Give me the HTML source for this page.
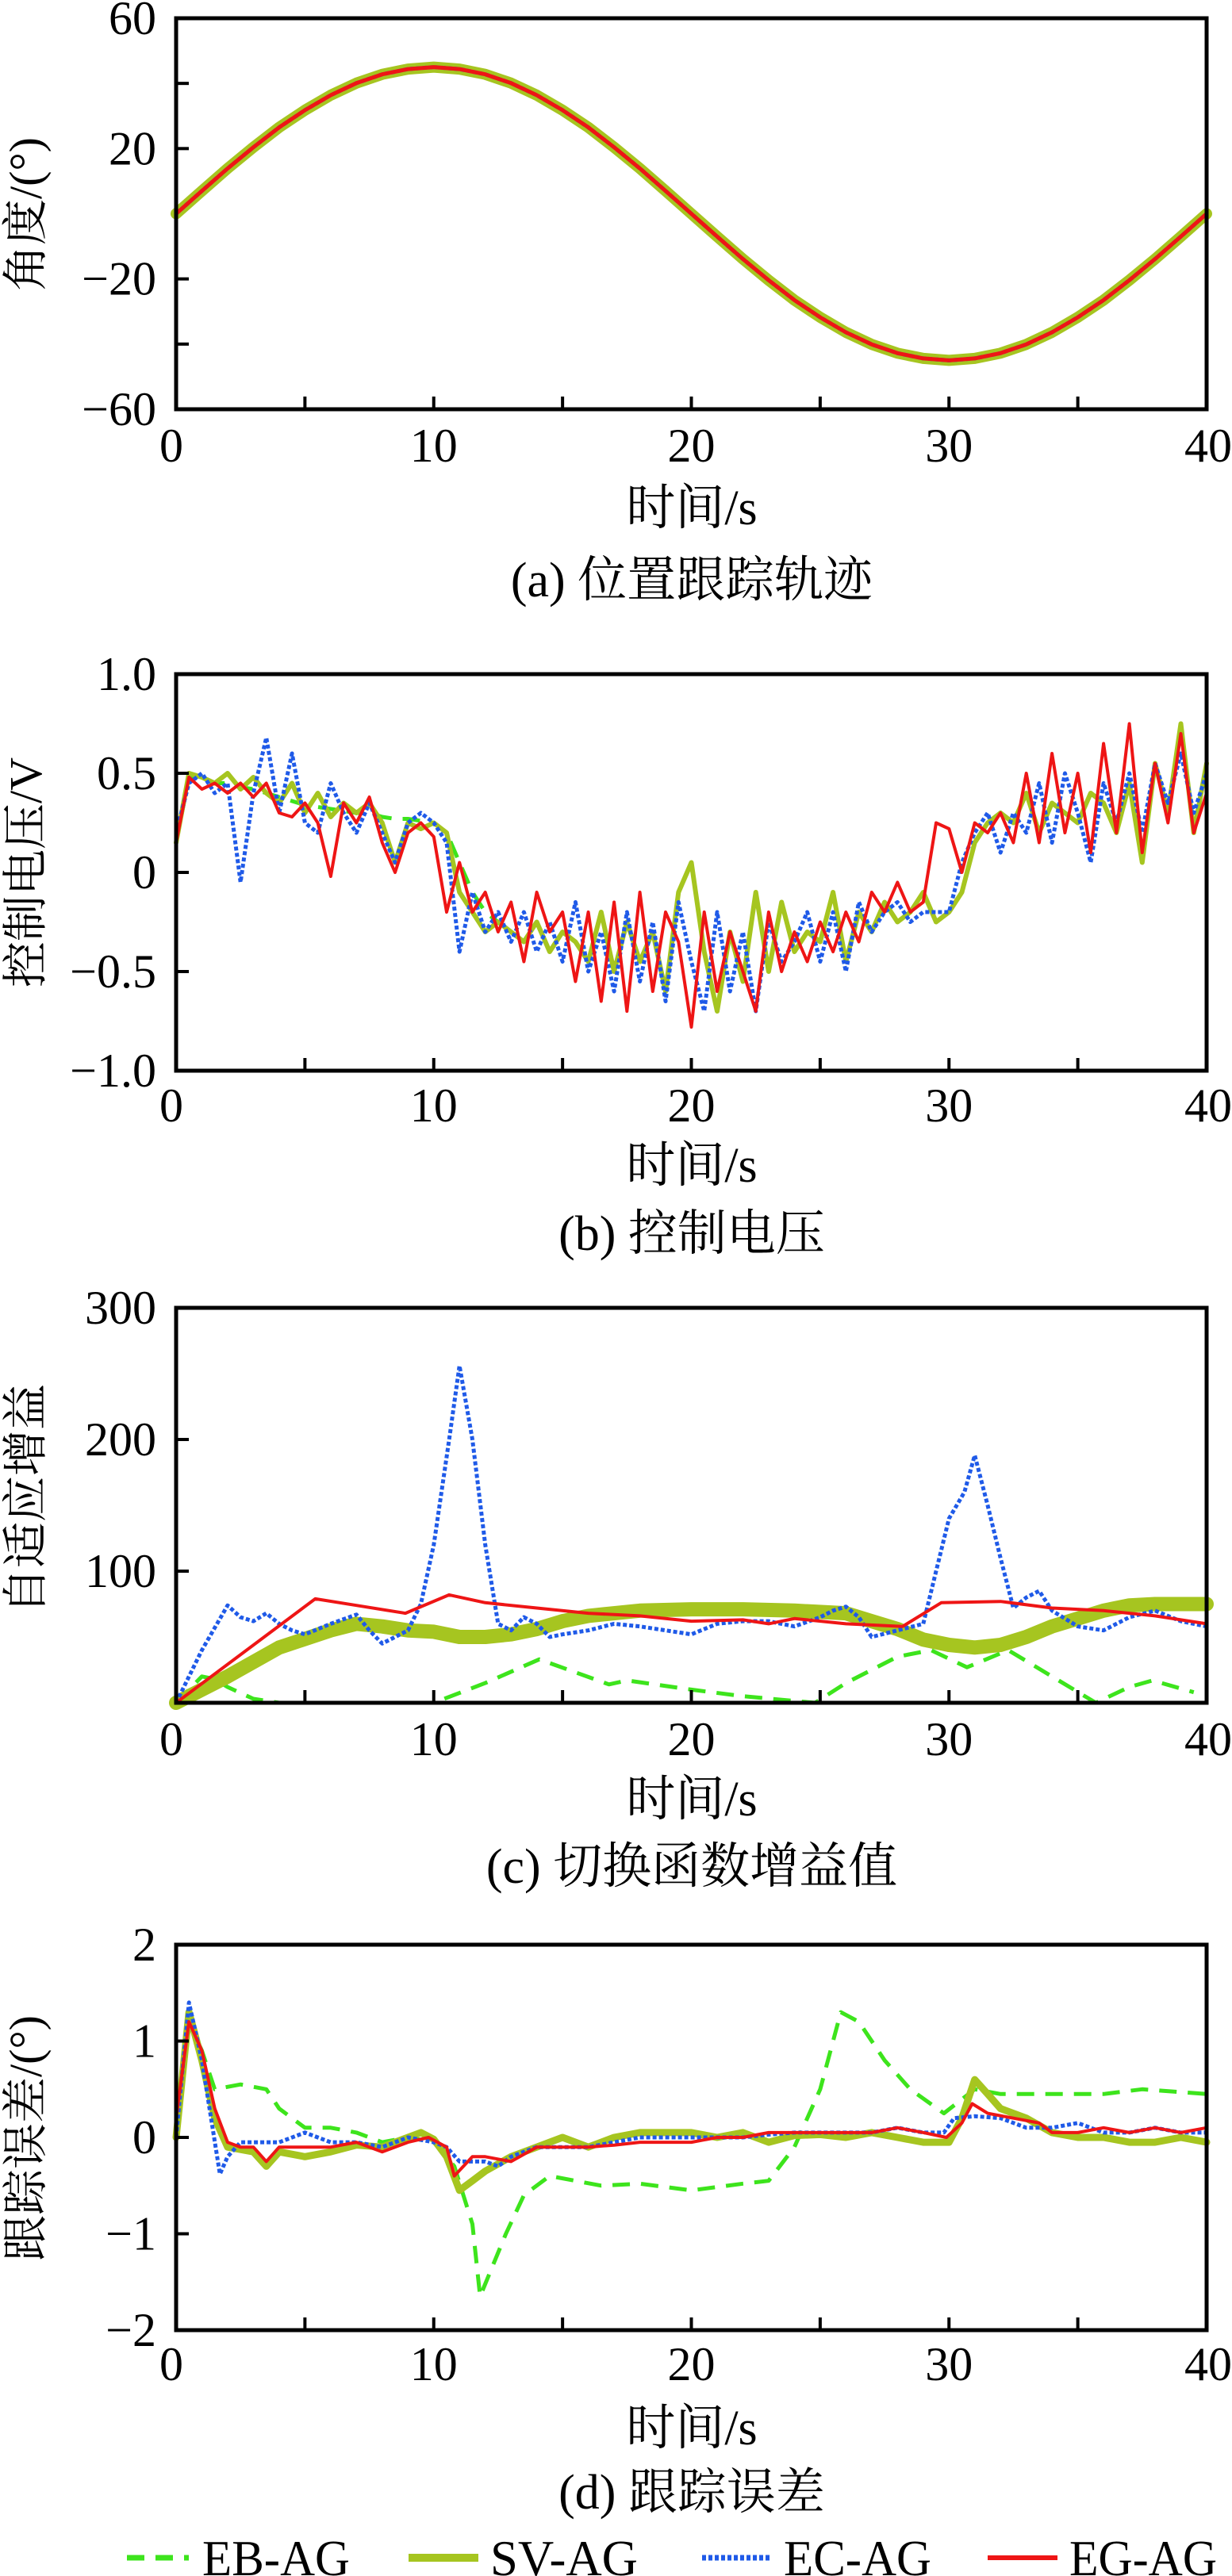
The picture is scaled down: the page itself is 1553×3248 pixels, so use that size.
<!DOCTYPE html>
<html><head><meta charset="utf-8">
<style>
html,body{margin:0;padding:0;background:#fff;}
svg{display:block;}
text{font-family:"Liberation Serif","Noto Serif CJK SC",serif;fill:#000;}
</style></head>
<body>
<svg id="fig" width="1553" height="3248" viewBox="0 0 1553 3248" xmlns="http://www.w3.org/2000/svg"></svg>
<script>
// ---------- (a) position tracking ----------
const aT = [0,1,2,3,4,5,6,7,8,9,10,11,12,13,14,15,16,17,18,19,20,21,22,23,24,25,26,27,28,29,30,31,32,33,34,35,36,37,38,39,40];
const aRef = [0,7,13.9,20.4,26.5,31.8,36.4,40.1,42.8,44.4,45,44.4,42.8,40.1,36.4,31.8,26.5,20.4,13.9,7,0,-7,-13.9,-20.4,-26.5,-31.8,-36.4,-40.1,-42.8,-44.4,-45,-44.4,-42.8,-40.1,-36.4,-31.8,-26.5,-20.4,-13.9,-7,0];

// ---------- (b) control voltage ----------
const bT = [0,0.5,1,1.5,2,2.5,3,3.5,4,4.5,5,5.5,6,6.5,7,7.5,8,8.5,9,9.5,10,10.5,11,11.5,12,12.5,13,13.5,14,14.5,15,15.5,16,16.5,17,17.5,18,18.5,19,19.5,20,20.5,21,21.5,22,22.5,23,23.5,24,24.5,25,25.5,26,26.5,27,27.5,28,28.5,29,29.5,30,30.5,31,31.5,32,32.5,33,33.5,34,34.5,35,35.5,36,36.5,37,37.5,38,38.5,39,39.5,40];
const bRed = [0.15,0.48,0.42,0.45,0.40,0.45,0.38,0.45,0.30,0.28,0.35,0.25,-0.02,0.35,0.25,0.38,0.15,0.0,0.2,0.25,0.18,-0.2,0.05,-0.2,-0.1,-0.3,-0.15,-0.45,-0.1,-0.3,-0.2,-0.55,-0.2,-0.65,-0.15,-0.7,-0.1,-0.6,-0.2,-0.35,-0.78,-0.2,-0.6,-0.3,-0.5,-0.7,-0.2,-0.5,-0.3,-0.45,-0.25,-0.4,-0.2,-0.35,-0.1,-0.2,-0.05,-0.2,-0.15,0.25,0.22,0.0,0.25,0.2,0.3,0.15,0.5,0.15,0.6,0.2,0.5,0.1,0.65,0.2,0.75,0.1,0.55,0.25,0.7,0.2,0.4];
const bBlue = [0.2,0.45,0.5,0.4,0.45,-0.05,0.4,0.68,0.3,0.6,0.25,0.2,0.45,0.3,0.2,0.35,0.2,0.05,0.25,0.3,0.25,0.15,-0.4,-0.1,-0.3,-0.2,-0.35,-0.2,-0.4,-0.25,-0.45,-0.15,-0.5,-0.3,-0.6,-0.2,-0.55,-0.25,-0.65,-0.15,-0.45,-0.7,-0.2,-0.6,-0.3,-0.7,-0.25,-0.45,-0.35,-0.2,-0.45,-0.2,-0.5,-0.15,-0.3,-0.2,-0.15,-0.25,-0.2,-0.2,-0.2,0.05,0.2,0.3,0.1,0.3,0.2,0.45,0.15,0.5,0.3,0.05,0.45,0.25,0.5,0.2,0.55,0.35,0.6,0.3,0.5];
const bSV = [0.15,0.5,0.48,0.45,0.5,0.42,0.48,0.4,0.35,0.45,0.3,0.4,0.28,0.35,0.3,0.35,0.25,0.05,0.25,0.22,0.25,0.2,-0.1,-0.2,-0.3,-0.25,-0.3,-0.35,-0.25,-0.4,-0.3,-0.35,-0.45,-0.2,-0.5,-0.25,-0.45,-0.3,-0.6,-0.1,0.05,-0.4,-0.7,-0.3,-0.55,-0.1,-0.5,-0.15,-0.4,-0.3,-0.35,-0.1,-0.45,-0.2,-0.3,-0.15,-0.25,-0.2,-0.1,-0.25,-0.2,-0.1,0.15,0.25,0.3,0.25,0.4,0.2,0.35,0.3,0.25,0.4,0.35,0.2,0.45,0.05,0.55,0.3,0.75,0.2,0.55];
const bEB = [0.15,0.48,0.47,0.45,0.45,0.43,0.42,0.4,0.38,0.36,0.34,0.33,0.32,0.31,0.3,0.3,0.28,0.27,0.27,0.26,0.25,0.2,0.05,-0.1,-0.2,-0.25];

// ---------- (c) adaptive gain ----------
const cBlueT = [0,1,2,2.5,3,3.5,4,4.5,5,6,7,7.5,8,9,9.5,10,10.6,11,11.5,12,12.5,13,13.5,14,14.5,15,16,17,18,19,20,21,22,23,24,25,25.5,26,26.5,27,28,29,29.5,30,30.6,31,31.5,32,32.5,33,33.5,34,35,36,37,38,39,40];
const cBlue = [0,40,74,65,62,68,60,55,52,60,67,55,45,55,75,120,200,256,200,120,60,55,65,60,50,52,55,60,58,55,52,60,62,62,58,65,70,73,65,50,55,60,100,140,160,188,150,110,72,80,85,70,58,55,65,70,62,58,55];
const cRedT = [0,5.4,7,8.9,10.6,12,14,16,18,20,22,23,24,26,28.2,29.7,32,34,36,38,40];
const cRed = [0,79,74,68,82,76,72,68,66,62,63,60,64,60,58,76,77,72,70,66,60];
const cSVT = [0,2,4,6,7,8,9,10,11,12,13,14,15,16,18,20,22,24,26,27,28,29,30,31,32,33,34,35,36,37,38,40];
const cSV = [0,20,42,55,60,58,55,54,50,50,52,56,62,66,70,71,71,70,68,62,56,48,44,42,44,50,58,64,70,74,75,75];
const cEBT = [0,1,1.5,2,3,4,8,10,12,14.1,16.8,17.5,20,22,24.8,26,28,29.3,30.7,32.3,34,35.7,37,37.9,39.5];
const cEB = [0,20,18,12,3,0,0,0,15,33,14,17,10,5,0,15,35,40,27,40,20,0,12,17,8];

// ---------- (d) tracking error ----------
const dEBT = [0,0.5,1,1.5,2.5,3.5,4,5,6,7,8,9,10,10.8,11.5,11.8,12.8,13.5,14.5,15.5,16.5,18,20,22,23,24,25,25.8,26.5,27.5,28.5,29.8,31,32,34,36,37.5,40];
const dEB = [0,1.2,0.9,0.5,0.55,0.5,0.3,0.1,0.1,0.05,-0.05,0,-0.05,-0.3,-0.9,-1.65,-1.0,-0.6,-0.4,-0.45,-0.5,-0.48,-0.55,-0.48,-0.45,-0.1,0.5,1.3,1.2,0.8,0.5,0.25,0.5,0.45,0.45,0.45,0.5,0.45];
const dSVT = [0,0.5,1,1.5,2,3,3.5,4,5,6,7,8,9,9.5,10,10.5,11,11.5,12,13,14,15,16,17,18,19,20,21,22,23,24,25,26,27,28,29,30,30.5,31,31.5,32,33,34,35,36,37,38,39,40];
const dSV = [0,1.3,0.8,0.2,-0.1,-0.15,-0.3,-0.15,-0.2,-0.15,-0.08,-0.1,0,0.05,-0.02,-0.2,-0.55,-0.45,-0.35,-0.2,-0.1,0,-0.1,0,0.05,0.05,0.05,0,0.05,-0.05,0.02,0.03,0,0.05,0,-0.05,-0.05,0.2,0.6,0.45,0.3,0.2,0.05,0,0,-0.05,-0.05,0,-0.05];
const dBlueT = [0,0.5,1,1.7,2,2.5,3,4,5,6,7,8,9,10,10.5,11,12,12.5,13,14,15,16,17,18,19,20,21,22,23,24,25,26,27,28,29,29.8,30.2,31,32,33,34,35,36,37,38,39,40];
const dBlue = [0,1.4,0.8,-0.38,-0.2,-0.05,-0.05,-0.05,0.05,-0.05,-0.05,-0.1,0,-0.05,-0.1,-0.25,-0.25,-0.3,-0.2,-0.1,-0.1,-0.1,-0.05,0,0,0,0,0,0.03,0.05,0.05,0.05,0.05,0.1,0.05,0.05,0.2,0.22,0.2,0.1,0.1,0.15,0.05,0.05,0.1,0.05,0.05];
const dRedT = [0,0.5,1,1.5,2,2.5,3,3.5,4,5,6,7,8,9,9.8,10.5,10.8,11.5,12,13,14,15,16,17,18,19,20,21,22,23,24,25,26,27,28,29,29.9,30.5,30.9,31.5,32.5,33.5,34,35,36,37,38,39,40];
const dRed = [0.2,1.2,0.9,0.3,-0.05,-0.1,-0.1,-0.25,-0.1,-0.1,-0.1,-0.05,-0.15,-0.05,0,-0.1,-0.4,-0.2,-0.2,-0.25,-0.1,-0.1,-0.1,-0.08,-0.05,-0.05,-0.05,0,0,0.05,0.05,0.05,0.05,0.05,0.1,0.05,0,0.15,0.35,0.25,0.2,0.15,0.05,0.05,0.1,0.05,0.1,0.05,0.1];

const xTicks = [0,10,20,30,40];

const NS = 'http://www.w3.org/2000/svg';
const svg = document.getElementById('fig');
function el(tag, attrs, parent) {
  const e = document.createElementNS(NS, tag);
  for (const k in attrs) e.setAttribute(k, attrs[k]);
  (parent || svg).appendChild(e);
  return e;
}
const X0 = 222, X1 = 1521;
function xs(t) { return X0 + (t / 40) * (X1 - X0); }

const STY = {
  eb: {stroke:'#3de41c', w:5, dash:'22 14'},
  sv: {stroke:'#a6c520', w:8, dash:''},
  ec: {stroke:'#1f5ae8', w:5, dash:'5 3'},
  eg: {stroke:'#ee1515', w:4, dash:''}
};

function panel(cfg) {
  const g = el('g', {});
  
  
  const ys = v => cfg.y1 - (v - cfg.ymin) / (cfg.ymax - cfg.ymin) * (cfg.y1 - cfg.y0);
  // series
  cfg.series.forEach(s => {
    const st = STY[s.k];
    let d = '';
    s.t.forEach((t, i) => { d += (i ? 'L' : 'M') + xs(t).toFixed(1) + ',' + ys(s.v[i]).toFixed(1); });
    const p = el('path', {d: d, fill:'none', stroke: st.stroke, 'stroke-width': s.w || st.w, 'stroke-linejoin':'round', 'stroke-linecap': st.dash ? 'butt' : 'round'}, g);
    if (st.dash) p.setAttribute('stroke-dasharray', st.dash);
    
    
  });
  // frame
  const fr = el('rect', {x:X0, y:cfg.y0, width:X1-X0, height:cfg.y1-cfg.y0, fill:'none', stroke:'#000', 'stroke-width':5}, g);
  
  
  // x ticks
  for (let t = 5; t < 40; t += 5) {
    el('line', {x1:xs(t), x2:xs(t), y1:cfg.y1, y2:cfg.y1-16, stroke:'#000','stroke-width':4}, g);
  }
  xTicks.forEach(t => {
    const tx = el('text', {x: xs(t) + (t===0 ? -6 : t===40 ? 2 : 0), y: cfg.xl + 20, 'font-size':60, 'text-anchor':'middle'}, g);
    tx.textContent = t;
    
    
  });
  // y ticks
  cfg.yTicks.forEach(v => {
    el('line', {x1:X0, x2:X0+16, y1:ys(v), y2:ys(v), stroke:'#000','stroke-width':4}, g);
  });
  cfg.yLabels.forEach((v, i) => {
    const tx = el('text', {x:197, y: ys(v) + 20, 'font-size':60, 'text-anchor':'end'}, g);
    tx.textContent = cfg.yText[i];
    
    
  });
  const xt = el('text', {x:872, y:cfg.xt + 22, 'font-size':62, 'text-anchor':'middle'}, g);
  xt.textContent = '时间/s';
  
  
  const cp = el('text', {x:872, y:cfg.cap + 22, 'font-size':62, 'text-anchor':'middle'}, g);
  cp.textContent = cfg.caption;
  
  
  const yt = el('text', {x:0, y:0, 'font-size':58, 'text-anchor':'middle', transform:'translate(52,' + cfg.ytc + ') rotate(-90)'}, g);
  yt.textContent = cfg.ytitle;
  
  
}

panel({name:'panel-a-position', y0:23, y1:516, ymin:-60, ymax:60, yTicks:[40,20,-20,-40], yLabels:[60,20,-20,-60], yText:['60','20','\u221220','\u221260'],
  xl:562, xt:639, cap:730, caption:'(a) 位置跟踪轨迹', ytitle:'角度/(°)', ytc:270,
  series:[{k:'sv',t:aT,v:aRef,w:14,name:'sv-ag-line'},{k:'ec',t:aT,v:aRef,name:'ec-ag-line'},{k:'eg',t:aT,v:aRef,w:5,name:'eg-ag-line'}]});
panel({name:'panel-b-voltage', y0:850, y1:1350, ymin:-1, ymax:1, yTicks:[0.5,0,-0.5], yLabels:[1,0.5,0,-0.5,-1], yText:['1.0','0.5','0','\u22120.5','\u22121.0'],
  xl:1394, xt:1468, cap:1554, caption:'(b) 控制电压', ytitle:'控制电压/V', ytc:1100,
  series:[{k:'eb',t:bT.slice(0,bEB.length),v:bEB,name:'eb-ag-line'},{k:'sv',t:bT,v:bSV,w:6,name:'sv-ag-line'},{k:'ec',t:bT,v:bBlue,name:'ec-ag-line'},{k:'eg',t:bT,v:bRed,name:'eg-ag-line'}]});
panel({name:'panel-c-gain', y0:1649, y1:2147, ymin:0, ymax:300, yTicks:[200,100], yLabels:[300,200,100], yText:['300','200','100'],
  xl:2193, xt:2267, cap:2352, caption:'(c) 切换函数增益值', ytitle:'自适应增益', ytc:1890,
  series:[{k:'eb',t:cEBT,v:cEB,name:'eb-ag-line'},{k:'sv',t:cSVT,v:cSV,w:18,name:'sv-ag-line'},{k:'ec',t:cBlueT,v:cBlue,name:'ec-ag-line'},{k:'eg',t:cRedT,v:cRed,name:'eg-ag-line'}]});
panel({name:'panel-d-error', y0:2452, y1:2938, ymin:-2, ymax:2, yTicks:[1,0,-1], yLabels:[2,1,0,-1,-2], yText:['2','1','0','\u22121','\u22122'],
  xl:2981, xt:3060, cap:3141, caption:'(d) 跟踪误差', ytitle:'跟踪误差/(°)', ytc:2696,
  series:[{k:'eb',t:dEBT,v:dEB,name:'eb-ag-line'},{k:'sv',t:dSVT,v:dSV,w:9,name:'sv-ag-line'},{k:'ec',t:dBlueT,v:dBlue,name:'ec-ag-line'},{k:'eg',t:dRedT,v:dRed,name:'eg-ag-line'}]});

// legend
const legNames = ['EB-AG','SV-AG','EC-AG','EG-AG'];
const legKeys = ['eb','sv','ec','eg'];
const legX = [160,515,885,1245];
const lg = el('g', {});


legKeys.forEach((k, i) => {
  const st = STY[k];
  const ln = el('line', {x1:legX[i], x2:legX[i]+(k==='eb'?78:88), y1:3225, y2:3225, stroke:st.stroke, 'stroke-width':st.w+2}, lg);
  if (st.dash) ln.setAttribute('stroke-dasharray', st.dash);
  
  
  const tx = el('text', {x:legX[i] + (k==='eb'?95:103), y:3247, 'font-size':64, textLength:186, lengthAdjust:'spacingAndGlyphs'}, lg);
  tx.textContent = legNames[i];
  
  
});
</script>
</body></html>
